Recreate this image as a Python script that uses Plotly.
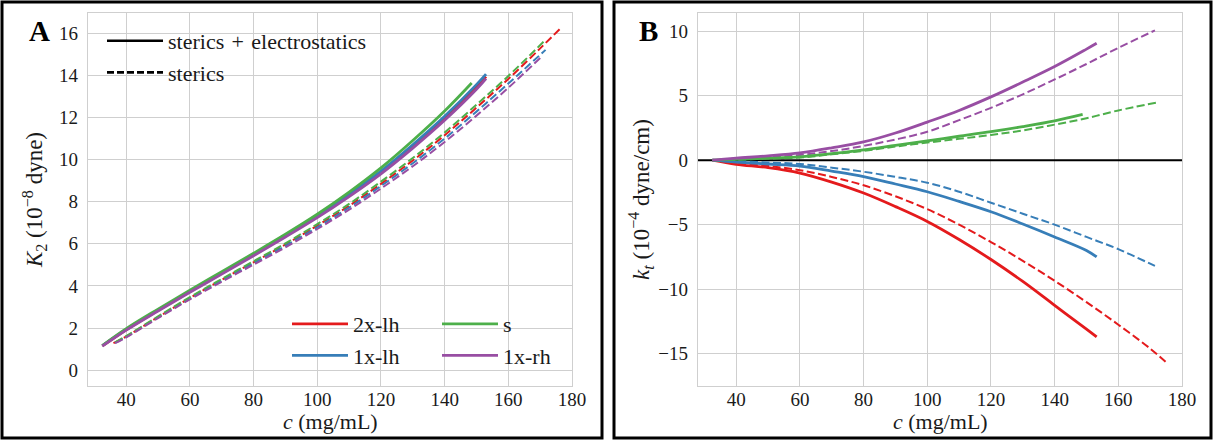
import plotly.graph_objects as go

# ---------------- data ----------------
series_names = ["2x-lh", "1x-lh", "s", "1x-rh"]
series_colors = ["#e41a1c", "#377eb8", "#4daf4a", "#984ea3"]

# Panel A: K2 (1e-8 dyne) vs c (mg/mL)
c_solid_A = {
    "2x-lh": [32.5, 40, 50, 60, 70, 80, 90, 100, 110, 120, 130, 140, 150, 153],
    "1x-lh": [32.5, 40, 50, 60, 70, 80, 90, 100, 110, 120, 130, 140, 150, 153],
    "s":     [32.5, 40, 50, 60, 70, 80, 90, 100, 110, 120, 130, 140, 148.5],
    "1x-rh": [32.5, 40, 50, 60, 70, 80, 90, 100, 110, 120, 130, 140, 150, 153],
}
K2_solid = {
    "2x-lh": [1.15, 1.92, 2.84, 3.73, 4.60, 5.48, 6.37, 7.30, 8.31, 9.40, 10.63, 11.96, 13.44, 13.93],
    "1x-lh": [1.17, 1.94, 2.86, 3.75, 4.62, 5.50, 6.40, 7.33, 8.35, 9.45, 10.70, 12.05, 13.55, 14.05],
    "s":     [1.17, 1.97, 2.90, 3.80, 4.67, 5.55, 6.45, 7.40, 8.45, 9.60, 10.90, 12.30, 13.63],
    "1x-rh": [1.14, 1.90, 2.81, 3.70, 4.56, 5.43, 6.32, 7.24, 8.24, 9.32, 10.54, 11.86, 13.33, 13.84],
}
c_dash_A = {
    "2x-lh": [36.0, 40, 50, 60, 70, 80, 90, 100, 110, 120, 130, 140, 150, 160, 170, 176.1],
    "1x-lh": [36.5, 40, 50, 60, 70, 80, 90, 100, 110, 120, 130, 140, 150, 160, 171.7],
    "s":     [36.5, 40, 50, 60, 70, 80, 90, 100, 110, 120, 130, 140, 150, 160, 171.1],
    "1x-rh": [36.5, 40, 50, 60, 70, 80, 90, 100, 110, 120, 130, 140, 150, 160, 170.4],
}
K2_dash = {
    "2x-lh": [1.28, 1.60, 2.52, 3.43, 4.29, 5.12, 5.96, 6.86, 7.80, 8.84, 9.95, 11.15, 12.46, 13.82, 15.27, 16.18],
    "1x-lh": [1.30, 1.58, 2.50, 3.40, 4.25, 5.07, 5.90, 6.78, 7.72, 8.74, 9.82, 10.99, 12.27, 13.60, 15.20],
    "s":     [1.32, 1.62, 2.55, 3.47, 4.33, 5.17, 6.02, 6.93, 7.89, 8.95, 10.07, 11.28, 12.60, 13.96, 15.59],
    "1x-rh": [1.28, 1.56, 2.47, 3.36, 4.20, 5.01, 5.83, 6.70, 7.62, 8.62, 9.68, 10.83, 12.08, 13.40, 14.87],
}

# Panel B: kt (1e-4 dyne/cm) vs c (mg/mL)
c_solid_B = {
    "2x-lh": [32.5, 40, 50, 60, 70, 80, 90, 100, 110, 120, 130, 140, 150, 153.2],
    "1x-lh": [32.5, 40, 50, 60, 70, 80, 90, 100, 110, 120, 130, 140, 150, 153.2],
    "s":     [32.5, 40, 50, 60, 70, 80, 90, 100, 110, 120, 130, 140, 148.8],
    "1x-rh": [32.5, 40, 50, 60, 70, 80, 90, 100, 110, 120, 130, 140, 150, 153.2],
}
kt_solid = {
    "2x-lh": [0.0, -0.32, -0.58, -1.00, -1.70, -2.55, -3.60, -4.75, -6.15, -7.70, -9.40, -11.25, -13.10, -13.70],
    "1x-lh": [0.0, -0.15, -0.30, -0.46, -0.85, -1.28, -1.85, -2.45, -3.20, -4.00, -4.95, -5.95, -7.00, -7.50],
    "s":     [0.0, 0.07, 0.15, 0.26, 0.50, 0.80, 1.15, 1.50, 1.85, 2.20, 2.60, 3.05, 3.55],
    "1x-rh": [0.0, 0.15, 0.33, 0.56, 0.95, 1.41, 2.10, 2.95, 3.85, 4.90, 6.05, 7.25, 8.60, 9.05],
}
c_dash_B = {
    "2x-lh": [33.5, 40, 50, 60, 70, 80, 90, 100, 110, 120, 130, 140, 150, 160, 170, 175.6],
    "1x-lh": [33.5, 40, 50, 60, 70, 80, 90, 100, 110, 120, 130, 140, 150, 160, 171.5],
    "s":     [33.5, 40, 50, 60, 70, 80, 90, 100, 110, 120, 130, 140, 150, 160, 171.8],
    "1x-rh": [33.5, 40, 50, 60, 70, 80, 90, 100, 110, 120, 130, 140, 150, 160, 171.5],
}
kt_dash = {
    "2x-lh": [0.0, -0.22, -0.45, -0.78, -1.30, -1.95, -2.80, -3.80, -5.00, -6.35, -7.80, -9.35, -11.00, -12.75, -14.60, -15.80],
    "1x-lh": [0.0, -0.08, -0.18, -0.30, -0.58, -0.90, -1.30, -1.75, -2.45, -3.30, -4.15, -5.00, -5.95, -6.90, -8.20],
    "s":     [0.0, 0.05, 0.12, 0.20, 0.45, 0.72, 1.05, 1.36, 1.65, 1.95, 2.30, 2.75, 3.25, 3.85, 4.45],
    "1x-rh": [0.0, 0.10, 0.22, 0.40, 0.70, 1.10, 1.60, 2.20, 3.10, 4.05, 5.10, 6.25, 7.45, 8.70, 10.05],
}

x_ticks = [40, 60, 80, 100, 120, 140, 160, 180]
yA_ticks = [0, 2, 4, 6, 8, 10, 12, 14, 16]
yB_ticks = [-15, -10, -5, 0, 5, 10]
x_range = [28, 180]
yA_range = [-0.75, 16.95]
yB_range = [-17.5, 11.4]
x_title = "<i>c</i> (mg/mL)"

# ---------------- figure ----------------
W, H = 1214, 441
FONT = "Liberation Serif"
GRID = "#cfcfcf"
TXT = "#1a1a1a"
fig = go.Figure()

SOLID_W = 2.8
DASH_W = 2.0
DASH = "8px,3.5px"

for name, col in zip(series_names, series_colors):
    fig.add_trace(go.Scatter(x=c_dash_A[name], y=K2_dash[name], mode="lines",
                             line=dict(color=col, width=DASH_W, dash=DASH, shape="spline"),
                             showlegend=False, xaxis="x", yaxis="y"))
for name, col in zip(series_names, series_colors):
    fig.add_trace(go.Scatter(x=c_solid_A[name], y=K2_solid[name], mode="lines",
                             line=dict(color=col, width=SOLID_W, shape="spline"),
                             showlegend=False, xaxis="x", yaxis="y"))

# zero line in B
fig.add_trace(go.Scatter(x=x_range, y=[0, 0], mode="lines", line=dict(color="black", width=2),
                         showlegend=False, xaxis="x2", yaxis="y2"))
for name, col in zip(series_names, series_colors):
    fig.add_trace(go.Scatter(x=c_dash_B[name], y=kt_dash[name], mode="lines",
                             line=dict(color=col, width=DASH_W, dash=DASH, shape="spline"),
                             showlegend=False, xaxis="x2", yaxis="y2"))
for name, col in zip(series_names, series_colors):
    fig.add_trace(go.Scatter(x=c_solid_B[name], y=kt_solid[name], mode="lines",
                             line=dict(color=col, width=SOLID_W, shape="spline"),
                             showlegend=False, xaxis="x2", yaxis="y2"))

# legend entries: line style
fig.add_trace(go.Scatter(x=[None], y=[None], mode="lines", name="sterics\u2004+\u2004electrostatics",
                         line=dict(color="black", width=2.6), legend="legend"))
fig.add_trace(go.Scatter(x=[None], y=[None], mode="lines", name="sterics",
                         line=dict(color="black", width=2.6, dash="7px,3px"), legend="legend"))
# legend entries: colours (two columns)
for i, (name, col) in enumerate(zip(series_names, series_colors)):
    fig.add_trace(go.Scatter(x=[None], y=[None], mode="lines", name=name,
                             line=dict(color=col, width=2.8),
                             legend="legend2" if i < 2 else "legend3"))

def px(x):
    return x / W

def py(y):
    return 1 - y / H

xdomA = [px(88), px(572)]
xdomB = [px(698), px(1182)]
ydom = [py(386), py(13)]

axis_common = dict(showgrid=True, gridcolor=GRID, gridwidth=1.3, showline=True, linecolor=GRID,
                   linewidth=1.3, mirror=True, ticks="", ticklen=0, zeroline=False,
                   tickfont=dict(family=FONT, size=19, color=TXT), automargin=False)

leg_common = dict(xanchor="left", yanchor="top", bgcolor="rgba(0,0,0,0)",
                  font=dict(family=FONT, size=22, color=TXT), tracegroupgap=0, itemwidth=56)

fig.update_layout(
    width=W, height=H, autosize=False,
    margin=dict(l=0, r=0, t=0, b=0, pad=0),
    paper_bgcolor="white", plot_bgcolor="white",
    font=dict(family=FONT, size=19, color=TXT),
    xaxis=dict(domain=xdomA, range=x_range, tickvals=x_ticks, anchor="y", ticklabelstandoff=-4,
               **axis_common),
    yaxis=dict(domain=ydom, range=yA_range, tickvals=yA_ticks, anchor="x", ticklabelstandoff=5,
               title=dict(text="<i>K</i><sub>2</sub> (10<sup>−8</sup> dyne)", font=dict(family=FONT, size=23, color=TXT), standoff=9),
               **axis_common),
    xaxis2=dict(domain=xdomB, range=x_range, tickvals=x_ticks, anchor="y2", ticklabelstandoff=-4,
                **axis_common),
    yaxis2=dict(domain=ydom, range=yB_range, tickvals=yB_ticks, anchor="x2", ticklabelstandoff=5,
                title=dict(text="<i>k<sub>t</sub></i> (10<sup>−4</sup> dyne/cm)", font=dict(family=FONT, size=23, color=TXT), standoff=2),
                **axis_common),
    legend=dict(x=px(102), y=py(20), **leg_common),
    legend2=dict(x=px(287), y=py(303), **leg_common),
    legend3=dict(x=px(437), y=py(303), **leg_common),
    shapes=[
        dict(type="rect", xref="paper", yref="paper", x0=px(2), x1=px(602), y0=py(438), y1=py(2),
             line=dict(color="black", width=3)),
        dict(type="rect", xref="paper", yref="paper", x0=px(614), x1=px(1211), y0=py(438), y1=py(2),
             line=dict(color="black", width=3)),
    ],
    annotations=[
        dict(text="<b>A</b>", x=px(27), y=py(31), xref="paper", yref="paper", xanchor="left",
             yanchor="middle", showarrow=False, font=dict(family=FONT, size=29, color="black")),
        dict(text="<b>B</b>", x=px(637), y=py(31), xref="paper", yref="paper", xanchor="left",
             yanchor="middle", showarrow=False, font=dict(family=FONT, size=29, color="black")),
        dict(text=x_title, x=sum(xdomA) / 2, y=py(421), xref="paper", yref="paper", xanchor="center",
             yanchor="middle", showarrow=False, font=dict(family=FONT, size=22, color=TXT)),
        dict(text=x_title, x=sum(xdomB) / 2, y=py(421), xref="paper", yref="paper", xanchor="center",
             yanchor="middle", showarrow=False, font=dict(family=FONT, size=22, color=TXT)),
    ],
)

fig.write_html("out.html", config={"displayModeBar": False},
               post_script="document.body.style.margin='0px';document.body.style.overflow='hidden';")
